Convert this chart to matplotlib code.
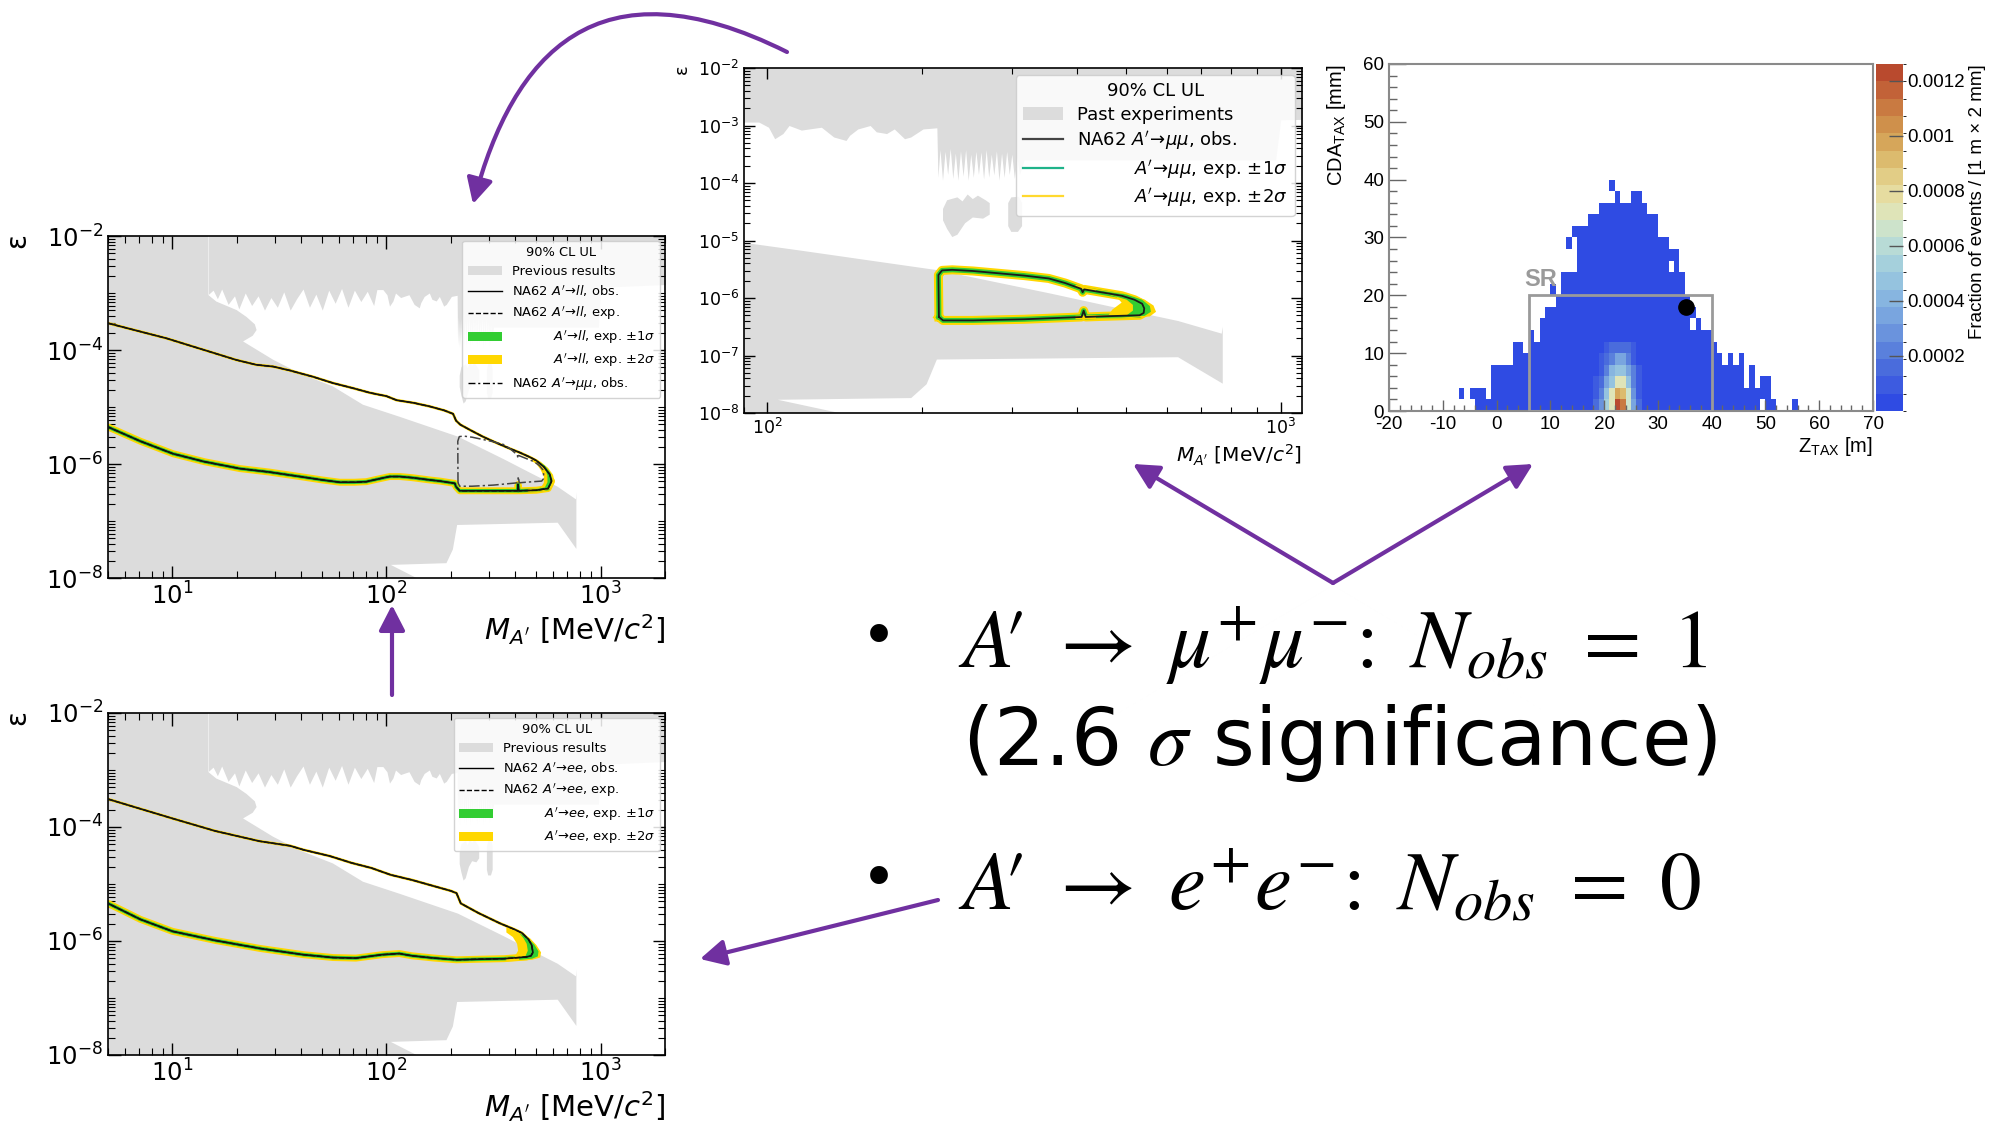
import numpy as np
import matplotlib
matplotlib.use('Agg')
import matplotlib.pyplot as plt
from matplotlib.patches import Patch, Rectangle, FancyArrowPatch
from matplotlib.lines import Line2D
from matplotlib.path import Path
from matplotlib.colors import ListedColormap, BoundaryNorm
from matplotlib.ticker import FixedLocator, LogLocator, NullFormatter, MultipleLocator

plt.rcParams['axes.unicode_minus'] = False
plt.rcParams['mathtext.fontset'] = 'dejavusans'

W, H = 1990, 1125
GREY = '#dcdcdc'
YELLOW = '#ffd700'
GREEN = '#32cd32'
PURPLE = '#7030a0'

# ---------------- exclusion limits, log10(M [MeV]) / log10(eps) ----------------
# previous results: beam-dump / supernova style region (single outline)
prev_lm = [0.699, 1.166, 1.166, 1.205, 1.30, 1.346, 1.385, 1.393, 1.375, 1.33, 1.47, 1.595,
           1.75, 1.89, 2.06, 2.334, 2.55, 2.674, 2.80, 2.885, 2.887, 2.887, 2.80, 2.33, 2.31,
           2.28, 2.02, 2.14, 0.699]
prev_le = [-2.0, -2.0, -3.03, -3.15, -3.30, -3.42, -3.55, -3.65, -3.75, -3.85, -4.17, -4.41,
           -4.64, -4.96, -5.17, -5.52, -5.92, -6.16, -6.40, -6.62, -6.50, -7.49, -7.03, -7.07,
           -7.50, -7.74, -7.77, -8.0, -8.0]

# previous results: prompt searches (lower edge of the upper band)
top_lm = [1.166, 1.19, 1.21, 1.23, 1.26, 1.29, 1.31, 1.34, 1.37, 1.40, 1.43, 1.46, 1.49, 1.52,
          1.55, 1.58, 1.61, 1.64, 1.67, 1.70, 1.73, 1.76, 1.79, 1.82, 1.85, 1.88, 1.91, 1.94,
          1.955, 1.983, 2.002, 2.014, 2.03, 2.042, 2.066, 2.081, 2.105, 2.129, 2.153, 2.16,
          2.176, 2.2, 2.212, 2.232, 2.247, 2.267, 2.279, 2.303, 2.33,
          2.332, 2.336, 2.341, 2.346, 2.351, 2.356, 2.361, 2.366, 2.371, 2.376, 2.381, 2.386,
          2.391, 2.396, 2.401, 2.406, 2.411, 2.416, 2.421, 2.426, 2.431, 2.436, 2.441, 2.446,
          2.451, 2.456, 2.461, 2.466, 2.471, 2.476, 2.481, 2.486, 2.491, 2.50, 2.60, 2.99,
          3.0, 3.31]
top_le = [-3.03, -2.95, -3.10, -2.93, -3.20, -3.05, -3.28, -3.0, -3.22, -3.05, -3.30, -3.08,
          -3.25, -2.98, -3.30, -3.10, -2.93, -3.25, -3.02, -3.30, -2.95, -3.18, -2.92, -3.25,
          -2.95, -3.15, -2.97, -3.22,
          -2.94, -2.94, -3.03, -3.23, -3.14, -3.0, -3.08, -3.06, -3.03, -3.20, -3.26, -3.17,
          -3.06, -3.0, -3.11, -3.14, -3.06, -3.23, -3.20, -3.06, -3.04,
          -3.90, -3.42, -3.95, -3.45, -3.85, -3.40, -3.92, -3.48, -3.95, -3.44, -3.88, -3.42,
          -3.95, -3.50, -3.90, -3.45, -3.85, -3.46, -3.93, -3.42, -3.90, -3.50, -3.86, -3.44,
          -3.95, -3.48, -3.90, -3.45, -3.85, -3.50, -3.92, -3.55, -3.85, -3.6, -3.6, -3.6,
          -2.9, -2.85]

island1_lm = [2.342, 2.35, 2.37, 2.38, 2.39, 2.40, 2.41, 2.425, 2.433, 2.433, 2.42, 2.40,
              2.385, 2.37, 2.36, 2.35, 2.342]
island1_le = [-4.45, -4.30, -4.25, -4.32, -4.20, -4.28, -4.22, -4.30, -4.35, -4.55, -4.62,
              -4.60, -4.70, -4.90, -4.94, -4.80, -4.65]
island2_lm = [2.469, 2.475, 2.49, 2.496, 2.496, 2.488, 2.475, 2.469]
island2_le = [-4.35, -4.25, -4.24, -4.35, -4.75, -4.85, -4.85, -4.75]

# NA62 A' -> ll, observed 90% CL contour
ll_up_lm = [0.699, 0.972, 1.299, 1.392, 1.47, 1.55, 1.657, 1.75, 1.844, 1.922, 2.0, 2.047,
            2.13, 2.202, 2.27, 2.311, 2.325, 2.345, 2.389, 2.45, 2.514, 2.57, 2.623, 2.67,
            2.70, 2.735, 2.762, 2.771]
ll_up_le = [-3.53, -3.795, -4.175, -4.26, -4.29, -4.36, -4.47, -4.58, -4.67, -4.75, -4.81,
            -4.88, -4.93, -4.99, -5.06, -5.12, -5.24, -5.31, -5.40, -5.52, -5.63, -5.72,
            -5.80, -5.88, -5.94, -6.05, -6.18, -6.30]
ll_lo_lm = [2.771, 2.755, 2.70, 2.618, 2.615, 2.612, 2.50, 2.342, 2.325, 2.319, 2.25, 2.202,
            2.12, 2.062, 2.015, 1.953, 1.906, 1.85, 1.782, 1.70, 1.595, 1.45, 1.314, 1.15,
            1.003, 0.85, 0.699]
ll_lo_le = [-6.30, -6.43, -6.46, -6.47, -6.36, -6.47, -6.47, -6.47, -6.40, -6.34, -6.30,
            -6.28, -6.24, -6.22, -6.22, -6.27, -6.31, -6.32, -6.32, -6.28, -6.22, -6.14,
            -6.08, -5.96, -5.82, -5.60, -5.35]
ll_2sig_tip = [(2.68, -5.88), (2.72, -5.96), (2.755, -6.07), (2.778, -6.19), (2.785, -6.31),
               (2.772, -6.42), (2.73, -6.48), (2.66, -6.49), (2.66, -6.44), (2.72, -6.42),
               (2.735, -6.33), (2.735, -6.22), (2.72, -6.10), (2.70, -6.00), (2.68, -5.95)]
ll_1sig_tip = [(2.70, -5.93), (2.74, -6.03), (2.765, -6.15), (2.775, -6.27), (2.768, -6.38),
               (2.74, -6.45), (2.70, -6.47), (2.70, -6.44), (2.74, -6.41), (2.752, -6.32),
               (2.752, -6.20), (2.74, -6.08), (2.72, -6.00)]

# NA62 A' -> mumu, observed 90% CL contour
mumu_lm = [2.334, 2.333, 2.34, 2.36, 2.40, 2.45, 2.50, 2.548, 2.58, 2.611, 2.614, 2.617, 2.65,
           2.69, 2.715, 2.73, 2.734, 2.733, 2.725, 2.65, 2.62, 2.616, 2.612, 2.50, 2.40, 2.342,
           2.334]
mumu_le = [-6.33, -5.60, -5.52, -5.51, -5.53, -5.57, -5.61, -5.66, -5.74, -5.84, -5.90, -5.85,
           -5.90, -5.96, -6.03, -6.10, -6.18, -6.26, -6.30, -6.32, -6.33, -6.22, -6.33, -6.37,
           -6.39, -6.39, -6.33]
mumu_2sig_tip = [(2.60, -5.77), (2.65, -5.86), (2.70, -5.93), (2.735, -6.03), (2.752, -6.13),
                 (2.757, -6.24), (2.745, -6.32), (2.70, -6.355), (2.60, -6.37), (2.60, -6.31),
                 (2.665, -6.29), (2.672, -6.20), (2.69, -6.08), (2.68, -5.98), (2.64, -5.88),
                 (2.60, -5.82)]
mumu_1sig_tip = [(2.64, -5.86), (2.70, -5.94), (2.73, -6.03), (2.745, -6.14), (2.747, -6.24),
                 (2.735, -6.31), (2.69, -6.34), (2.64, -6.35), (2.64, -6.31), (2.70, -6.30),
                 (2.712, -6.22), (2.712, -6.12), (2.70, -6.03), (2.67, -5.95), (2.64, -5.90)]

# NA62 A' -> ee, observed 90% CL contour
ee_up_lm = [0.699, 1.0, 1.2, 1.408, 1.55, 1.612, 1.735, 1.837, 1.93, 2.02, 2.12, 2.224, 2.30,
            2.327, 2.347, 2.43, 2.53, 2.60, 2.633, 2.663, 2.678, 2.684]
ee_up_le = [-3.51, -3.85, -4.07, -4.25, -4.33, -4.40, -4.51, -4.63, -4.72, -4.84, -4.93, -5.04,
            -5.12, -5.16, -5.34, -5.51, -5.69, -5.80, -5.86, -5.97, -6.07, -6.20]
ee_lo_lm = [2.684, 2.675, 2.653, 2.55, 2.43, 2.327, 2.224, 2.12, 2.06, 1.98, 1.857, 1.75,
            1.612, 1.408, 1.2, 1.0, 0.85, 0.699]
ee_lo_le = [-6.20, -6.26, -6.28, -6.31, -6.32, -6.33, -6.30, -6.26, -6.22, -6.24, -6.30, -6.29,
            -6.24, -6.13, -5.99, -5.83, -5.62, -5.34]
ee_2sig_tip = [(2.56, -5.74), (2.62, -5.84), (2.67, -5.95), (2.70, -6.07), (2.722, -6.20),
               (2.718, -6.29), (2.68, -6.33), (2.56, -6.36), (2.56, -6.29), (2.60, -6.27),
               (2.615, -6.17), (2.61, -6.05), (2.59, -5.93), (2.56, -5.85)]
ee_1sig_tip = [(2.62, -5.86), (2.66, -5.95), (2.69, -6.06), (2.71, -6.18), (2.707, -6.27),
               (2.68, -6.31), (2.62, -6.33), (2.62, -6.29), (2.65, -6.26), (2.66, -6.17),
               (2.655, -6.05), (2.64, -5.95)]

# ---------------- Z_TAX / CDA_TAX distribution ----------------
z_bins = list(range(-7, 56))          # 1 m bins, lower edge
cda_top = [4, 0, 4, 4, 4, 2, 8,
           8, 8, 8, 12, 12, 10, 14, 12, 16, 18,
           18, 20, 24, 24, 24, 32, 32, 34, 34, 36,
           36, 40, 38, 36, 36, 38, 38, 36, 34, 34,
           30, 30, 28, 28, 24, 20, 18, 16, 14, 14,
           12, 10, 8, 10, 8, 10, 4, 8, 4, 6,
           6, 2, 0, 0, 0, 2]              # mm, upper edge of populated bins
hole_z = [-7, -5, 21, 32, 36, 49]
hole_cda = [0, 0, 36, 24, 14, 0]
extra_z = [10, 13, 14]
extra_cda = [20, 28, 30]
base_frac = 3e-5
hot_z = list(range(17, 28))
hot_frac = [  # 1e-4 per bin, rows 0-2, 2-4, ... 10-12 mm
    [0.6, 1.5, 3.0, 5.5, 7.5, 12.5, 11.0, 6.5, 3.5, 1.5, 0.6],
    [0.4, 1.0, 2.0, 4.5, 7.0, 10.0, 9.0, 6.5, 3.0, 1.2, 0.4],
    [0.3, 0.7, 1.5, 3.5, 5.0, 7.5, 7.0, 5.0, 2.5, 1.0, 0.3],
    [0.2, 0.5, 1.2, 2.5, 4.0, 5.0, 5.0, 3.5, 2.0, 0.8, 0.2],
    [0.2, 0.3, 0.8, 1.5, 2.5, 3.5, 3.5, 2.5, 1.2, 0.5, 0.2],
    [0.1, 0.2, 0.5, 0.8, 1.5, 1.8, 1.8, 1.5, 0.8, 0.3, 0.1],
]
cand_z, cand_cda = 35.2, 17.9
sr_z = (6, 40)
sr_cda = 20
cbar_ticks = [0.0002, 0.0004, 0.0006, 0.0008, 0.001, 0.0012]
cbar_labels = ['0.0002', '0.0004', '0.0006', '0.0008', '0.001', '0.0012']
palette = ['#2f4be3', '#3d5be0', '#4a6cdc', '#5a80dc', '#6a93dd', '#79a5df', '#87b5e0',
           '#95c3df', '#a5d0dc', '#b8dbd6', '#cde3cb', '#dfe4b8', '#e6dca0', '#e2cd86',
           '#dcbb6e', '#d6a65a', '#cf904b', '#c97a41', '#c26238', '#b94a2e']


def lin(v):
    return np.power(10.0, np.asarray(v, dtype=float))


def px_axes(l, t, r, b):
    return fig.add_axes([l / W, 1 - b / H, (r - l) / W, (b - t) / H])


def draw_previous(ax):
    ax.fill(lin(prev_lm), lin(prev_le), color=GREY, lw=0, zorder=1)
    ax.fill_between(lin(top_lm), lin(top_le), 1e-2, color=GREY, lw=0, zorder=1)
    for lm, le in ((island1_lm, island1_le), (island2_lm, island2_le)):
        ax.fill(lin(lm), lin(le), color=GREY, lw=0, zorder=1)


def draw_tip(ax, pts, color):
    pts = np.array(pts)
    ax.fill(lin(pts[:, 0]), lin(pts[:, 1]), color=color, lw=0, zorder=2)


def style_limit_axes(ax, xlim, fs, every_decade):
    ax.set_xscale('log')
    ax.set_yscale('log')
    ax.set_xlim(*xlim)
    ax.set_ylim(1e-8, 1e-2)
    step = 1 if every_decade else 2
    ax.yaxis.set_major_locator(FixedLocator([10.0 ** k for k in range(-8, -1, step)]))
    ax.yaxis.set_minor_locator(LogLocator(base=10, subs=np.arange(1, 10), numticks=20))
    ax.yaxis.set_minor_formatter(NullFormatter())
    ax.xaxis.set_minor_locator(LogLocator(base=10, subs=np.arange(2, 10), numticks=20))
    ax.xaxis.set_minor_formatter(NullFormatter())
    ax.tick_params(which='both', direction='in', top=True, right=True, labelsize=fs)
    ax.tick_params(which='major', length=9, width=1.0)
    ax.tick_params(which='minor', length=5, width=0.8)
    for s in ax.spines.values():
        s.set_linewidth(1.2)


def limit_panel(ax, up, lo, tip2, tip1, chan, with_mumu):
    draw_previous(ax)
    (ulm, ule), (llm, lle) = up, lo
    # expected bands
    ax.plot(lin(ulm), lin(ule), color=YELLOW, lw=2.0, solid_capstyle='round', zorder=2)
    ax.plot(lin(llm), lin(lle), color=YELLOW, lw=5.0, solid_capstyle='round', zorder=2)
    ax.plot(lin(llm), lin(lle), color=GREEN, lw=2.6, solid_capstyle='round', zorder=2)
    draw_tip(ax, tip2, YELLOW)
    draw_tip(ax, tip1, GREEN)
    # expected and observed
    cl_lm = list(ulm) + list(llm[1:])
    cl_le = list(ule) + list(lle[1:])
    ax.plot(lin(cl_lm), lin(cl_le), color='k', lw=1.0, ls='--', zorder=3)
    ax.plot(lin(cl_lm), lin(cl_le), color='#111111', lw=1.2, zorder=3)
    if with_mumu:
        ax.plot(lin(mumu_lm), lin(mumu_le), color='#444444', lw=1.1,
                ls=(0, (7, 2, 1.5, 2)), zorder=3)
    style_limit_axes(ax, (5, 2000), 17.5, False)
    ax.set_xlabel(r"$M_{A'}$ [MeV/$c^2$]", fontsize=21, loc='right')
    ax.xaxis.set_label_coords(1.0, -0.10)
    ax.set_ylabel('ε', fontsize=20, loc='top')
    ax.yaxis.set_label_coords(-0.138, 1.01)
    pad = '          '
    handles = [Patch(fc=GREY, ec='none'),
               Line2D([], [], color='k', lw=1.0),
               Line2D([], [], color='k', lw=1.0, ls='--'),
               Patch(fc=GREEN, ec='none'),
               Patch(fc=YELLOW, ec='none')]
    labels = ['Previous results',
              r"NA62 $A'\!\rightarrow\!%s$, obs." % chan,
              r"NA62 $A'\!\rightarrow\!%s$, exp." % chan,
              pad + r"$A'\!\rightarrow\!%s$, exp. $\pm1\sigma$" % chan,
              pad + r"$A'\!\rightarrow\!%s$, exp. $\pm2\sigma$" % chan]
    if with_mumu:
        handles.append(Line2D([], [], color='k', lw=1.0, ls=(0, (5, 2, 1.5, 2))))
        labels.append(r"NA62 $A'\!\rightarrow\!\mu\mu$, obs.")
    leg = ax.legend(handles, labels, title='90% CL UL', loc='upper right', fontsize=9.4,
                    title_fontsize=9.4, handlelength=2.6, labelspacing=0.45,
                    borderaxespad=0.35, framealpha=0.85)
    leg.set_zorder(5)


fig = plt.figure(figsize=(W / 100, H / 100), dpi=100)

# ---- A' -> ll (top left) ----
ax1 = px_axes(108, 236, 665, 578)
limit_panel(ax1, (ll_up_lm, ll_up_le), (ll_lo_lm, ll_lo_le), ll_2sig_tip, ll_1sig_tip,
            'll', True)

# ---- A' -> ee (bottom left) ----
ax2 = px_axes(108, 713, 665, 1055)
limit_panel(ax2, (ee_up_lm, ee_up_le), (ee_lo_lm, ee_lo_le), ee_2sig_tip, ee_1sig_tip,
            'ee', False)

# ---- A' -> mumu (top middle) ----
ax3 = px_axes(744, 68, 1302, 413)
draw_previous(ax3)
ax3.plot(lin(mumu_lm), lin(mumu_le), color=YELLOW, lw=6.5, solid_joinstyle='round', zorder=2)
ax3.plot(lin(mumu_lm), lin(mumu_le), color=GREEN, lw=3.6, solid_joinstyle='round', zorder=2)
draw_tip(ax3, mumu_2sig_tip, YELLOW)
draw_tip(ax3, mumu_1sig_tip, GREEN)
ax3.plot(lin(mumu_lm), lin(mumu_le), color='#1a1a1a', lw=1.3, zorder=3)
style_limit_axes(ax3, (90, 1100), 12.5, True)
ax3.tick_params(which='major', length=8)
ax3.tick_params(which='minor', length=4.5)
ax3.set_xlabel(r"$M_{A'}$ [MeV/$c^2$]", fontsize=14.5, loc='right')
ax3.xaxis.set_label_coords(1.0, -0.085)
ax3.set_ylabel('ε', fontsize=13, loc='top')
ax3.yaxis.set_label_coords(-0.096, 1.01)
pad3 = '          '
h3 = [Patch(fc=GREY, ec='none'),
      Line2D([], [], color='#444444', lw=1.6),
      Line2D([], [], color='#1fb38a', lw=1.6),
      Line2D([], [], color='#ffd92f', lw=1.6)]
l3 = ['Past experiments',
      r"NA62 $A'\!\rightarrow\!\mu\mu$, obs.",
      pad3 + r"$A'\!\rightarrow\!\mu\mu$, exp. $\pm1\sigma$",
      pad3 + r"$A'\!\rightarrow\!\mu\mu$, exp. $\pm2\sigma$"]
leg3 = ax3.legend(h3, l3, title='90% CL UL', loc='upper right', fontsize=13,
                  title_fontsize=13, handlelength=2.2, labelspacing=0.3,
                  borderaxespad=0.4, framealpha=0.85)
leg3.set_zorder(5)

# ---- Z_TAX vs CDA_TAX histogram (top right) ----
axh = px_axes(1389, 64, 1873, 411)
grid = np.full((30, 90), np.nan)
for z, top in zip(z_bins, cda_top):
    grid[:top // 2, z + 20] = base_frac
for z, c in zip(hole_z, hole_cda):
    grid[c // 2, z + 20] = np.nan
for z, c in zip(extra_z, extra_cda):
    grid[c // 2, z + 20] = base_frac
grid[:len(hot_frac), hot_z[0] + 20:hot_z[-1] + 21] = np.array(hot_frac) * 1e-4

cmap = ListedColormap(palette)
norm = BoundaryNorm(np.linspace(0, 0.00126, len(palette) + 1), len(palette), clip=True)
mesh = axh.pcolormesh(np.arange(-20, 71), np.arange(0, 61, 2), np.ma.masked_invalid(grid),
                      cmap=cmap, norm=norm, zorder=1)
axh.add_patch(Rectangle((sr_z[0], 0), sr_z[1] - sr_z[0], sr_cda, fill=False,
                        ec='#9a9a9a', lw=2.0, zorder=3))
axh.text(sr_z[0] - 0.8, sr_cda + 1.6, 'SR', color='#9a9a9a', fontsize=17,
         fontweight='bold', family='Liberation Sans', zorder=3)
axh.plot(cand_z, cand_cda, 'o', color='k', ms=11, zorder=4)
axh.set_xlim(-20, 70)
axh.set_ylim(0, 60)
axh.xaxis.set_major_locator(MultipleLocator(10))
axh.xaxis.set_minor_locator(MultipleLocator(2))
axh.yaxis.set_major_locator(MultipleLocator(10))
axh.yaxis.set_minor_locator(MultipleLocator(2))
axh.tick_params(which='both', direction='in', colors='#666666', labelcolor='k',
                labelsize=13.5, labelfontfamily='Liberation Sans')
axh.tick_params(axis='y', which='major', length=12, width=1.0)
axh.tick_params(axis='y', which='minor', length=6, width=1.0)
axh.tick_params(axis='x', which='major', length=8, width=1.0)
axh.tick_params(axis='x', which='minor', length=4, width=1.0)
for s in axh.spines.values():
    s.set_color('#8a8a8a')
    s.set_linewidth(1.5)
axh.set_xlabel(r'Z$_{\mathregular{TAX}}$ [m]', fontsize=14.5, family='Liberation Sans',
               loc='right')
axh.xaxis.set_label_coords(1.0, -0.07)
axh.set_ylabel(r'CDA$_{\mathregular{TAX}}$ [mm]', fontsize=14.5, family='Liberation Sans',
               loc='top')
axh.yaxis.set_label_coords(-0.085, 1.0)

cax = px_axes(1876, 64, 1903, 411)
cb = fig.colorbar(mesh, cax=cax, ticks=cbar_ticks)
cb.outline.set_visible(False)
cb.ax.set_yticklabels(cbar_labels)
cax.tick_params(direction='in', length=10, width=1.0, color='#555555', labelsize=13.5,
                labelfontfamily='Liberation Sans', pad=3)
cb.set_label('Fraction of events / [1 m × 2 mm]', fontsize=13.5, family='Liberation Sans',
             loc='top')
cax.yaxis.set_label_coords(3.45, 1.0)

# ---- overlay: arrows and summary text ----
ov = fig.add_axes([0, 0, 1, 1])
ov.set_xlim(0, W)
ov.set_ylim(H, 0)
ov.axis('off')
ov.set_zorder(10)
ov.patch.set_alpha(0)

head = '-|>,head_length=0.7,head_width=0.36'
arc = Path([(787, 52), (597, -43), (513, 54), (473, 204)],
           [Path.MOVETO, Path.CURVE4, Path.CURVE4, Path.CURVE4])
ov.add_patch(FancyArrowPatch(path=arc, arrowstyle=head, mutation_scale=22, color=PURPLE,
                             lw=3))
for start, end in [((392, 695), (392, 605)), ((1333, 583), (1133, 464)),
                   ((1333, 583), (1533, 464)), ((938, 900), (700, 959))]:
    ov.annotate('', xy=end, xytext=start,
                arrowprops=dict(arrowstyle=head, mutation_scale=22, color=PURPLE, lw=3,
                                shrinkA=0, shrinkB=0))

ov.text(879, 640, '•', fontsize=44, ha='center', va='center')
ov.text(879, 881, '•', fontsize=44, ha='center', va='center')
ov.text(958, 668, r"$A\!\prime\ \rightarrow\ \mu^{+}\mu^{-}\!:\ N_{obs}\ =\ 1$",
        fontsize=60, math_fontfamily='stix', ha='left', va='baseline')
ov.text(962, 765, r"(2.6 $\sigma$ significance)", fontsize=58, family='DejaVu Sans',
        math_fontfamily='stix', ha='left', va='baseline')
ov.text(958, 910, r"$A\!\prime\ \rightarrow\ e^{+}e^{-}\!:\ N_{obs}\ =\ 0$",
        fontsize=60, math_fontfamily='stix', ha='left', va='baseline')

fig.savefig('out.png', dpi=100)
